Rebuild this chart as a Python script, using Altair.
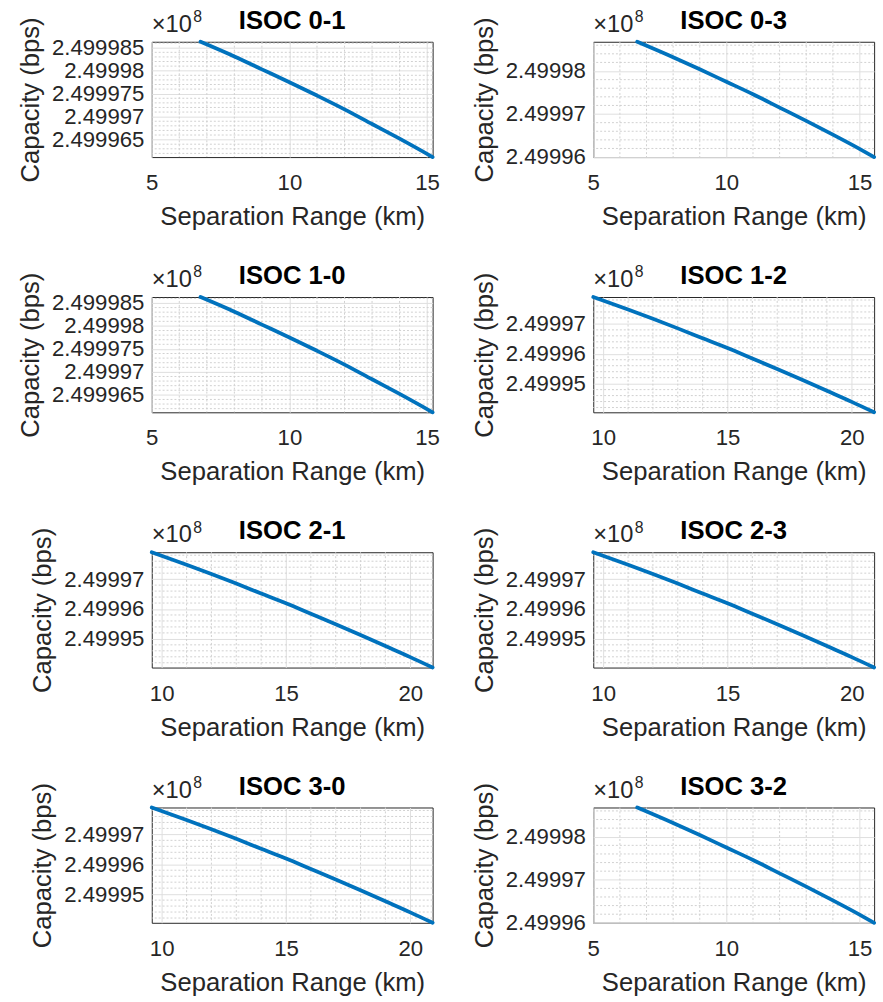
import altair as alt
import pandas as pd

FONT = "Liberation Sans"
TXT = "#262626"
BLUE = "#0072BD"

titles = ["ISOC 0-1", "ISOC 0-3", "ISOC 1-0", "ISOC 1-2",
          "ISOC 2-1", "ISOC 2-3", "ISOC 3-0", "ISOC 3-2"]
groups = ["A", "B", "A", "C", "C", "C", "C", "B"]

# Separation range (km) and capacity (x1e8 bps)
range_A = [6.77, 8, 9, 10, 11, 12, 13, 14, 15.2]
cap_A = [2.4999863, 2.4999831, 2.4999803, 2.4999775, 2.4999746,
         2.4999716, 2.4999684, 2.4999652, 2.4999612]
range_B = [6.65, 8, 9, 10, 11, 12, 13, 14, 15, 15.55]
cap_B = [2.4999868, 2.4999832, 2.4999804, 2.4999775, 2.4999746,
         2.4999715, 2.4999684, 2.4999652, 2.4999619, 2.49996]
range_C = [9.6, 11, 12, 13, 14, 15, 16, 17, 18, 19, 20, 20.9]
cap_C = [2.499979, 2.4999748, 2.4999717, 2.4999685, 2.4999652, 2.4999619,
         2.4999584, 2.4999549, 2.4999513, 2.4999476, 2.4999439, 2.4999404]

ranges = {"A": range_A, "B": range_B, "C": range_C}
caps = {"A": cap_A, "B": cap_B, "C": cap_C}

x_domain = {"A": [5, 15.2], "B": [5, 15.55], "C": [9.6, 20.9]}
y_domain = {"A": [2.4999612, 2.4999863], "B": [2.49996, 2.4999868],
            "C": [2.4999404, 2.499979]}

x_major = {"A": [5, 10, 15], "B": [5, 10, 15], "C": [10, 15, 20]}
x_minor = {"A": [6, 7, 8, 9, 11, 12, 13, 14],
           "B": [6, 7, 8, 9, 11, 12, 13, 14],
           "C": [11, 12, 13, 14, 16, 17, 18, 19]}
y_major = {"A": [2.499965, 2.49997, 2.499975, 2.49998, 2.499985],
           "B": [2.49996, 2.49997, 2.49998],
           "C": [2.49995, 2.49996, 2.49997]}
y_minor = {"A": [2.499962, 2.499963, 2.499964, 2.499966, 2.499967, 2.499968,
                 2.499969, 2.499971, 2.499972, 2.499973, 2.499974, 2.499976,
                 2.499977, 2.499978, 2.499979, 2.499981, 2.499982, 2.499983,
                 2.499984, 2.499986],
           "B": [2.499962, 2.499964, 2.499966, 2.499968, 2.499972, 2.499974,
                 2.499976, 2.499978, 2.499982, 2.499984, 2.499986],
           "C": [2.499942, 2.499944, 2.499946, 2.499948, 2.499952, 2.499954,
                 2.499956, 2.499958, 2.499962, 2.499964, 2.499966, 2.499968,
                 2.499972, 2.499974, 2.499976, 2.499978]}

W = 285
H = 117


def panel(i):
    g = groups[i]
    xs = alt.Scale(domain=x_domain[g], nice=False, zero=False)
    ys = alt.Scale(domain=y_domain[g], nice=False, zero=False)
    xax = alt.Axis(values=x_major[g], title="Separation Range (km)",
                   format="d", labelPadding=15, titlePadding=10)
    yax = alt.Axis(values=y_major[g], title="Capacity (bps)",
                   format=".7~g", labelPadding=8, titlePadding=8)
    df = pd.DataFrame({"r": ranges[g], "c": caps[g]})
    line = alt.Chart(df).mark_line(
        color=BLUE, strokeWidth=3.8, interpolate="monotone", clip=False,
        strokeCap="round"
    ).encode(
        x=alt.X("r:Q", scale=xs, axis=xax),
        y=alt.Y("c:Q", scale=ys, axis=yax),
    )
    ymin = alt.Chart(pd.DataFrame({"c": y_minor[g]})).mark_rule(
        color="#d0d0d0", strokeWidth=1, strokeDash=[2, 2]
    ).encode(y=alt.Y("c:Q", scale=ys, axis=yax))
    xmin = alt.Chart(pd.DataFrame({"r": x_minor[g]})).mark_rule(
        color="#d0d0d0", strokeWidth=1, strokeDash=[2, 2]
    ).encode(x=alt.X("r:Q", scale=xs, axis=xax))
    e1 = alt.Chart(pd.DataFrame({"t": ["×10"]})).mark_text(
        align="left", baseline="alphabetic", fontSize=24, font=FONT, color=TXT
    ).encode(text="t:N", x=alt.value(0), y=alt.value(-10))
    e2 = alt.Chart(pd.DataFrame({"t": ["8"]})).mark_text(
        align="left", baseline="alphabetic", fontSize=16, font=FONT, color=TXT
    ).encode(text="t:N", x=alt.value(42), y=alt.value(-20))
    return alt.layer(ymin, xmin, line, e1, e2).properties(
        width=W, height=H, title=alt.TitleParams(titles[i]))


chart = alt.concat(
    *[panel(i) for i in range(8)], columns=2,
    spacing=alt.RowColnumber(row=33, column=30)
).properties(
    padding={"left": 17, "top": 0, "right": 0, "bottom": 0}
).configure_axis(
    labelFont=FONT, titleFont=FONT, labelFontSize=22.5, titleFontSize=26,
    labelColor=TXT, titleColor=TXT, titleFontWeight="normal",
    domain=False, ticks=False, grid=True, gridColor="#dedede", gridWidth=1,
    labelFlush=False, labelOverlap=False
).configure_view(
    stroke=TXT, strokeWidth=1
).configure_title(
    font=FONT, fontSize=26, fontWeight="bold", color="#000000",
    anchor="middle", frame="group", offset=-25
)

chart.save("out.html", embed_options={"renderer": "svg", "actions": False})
